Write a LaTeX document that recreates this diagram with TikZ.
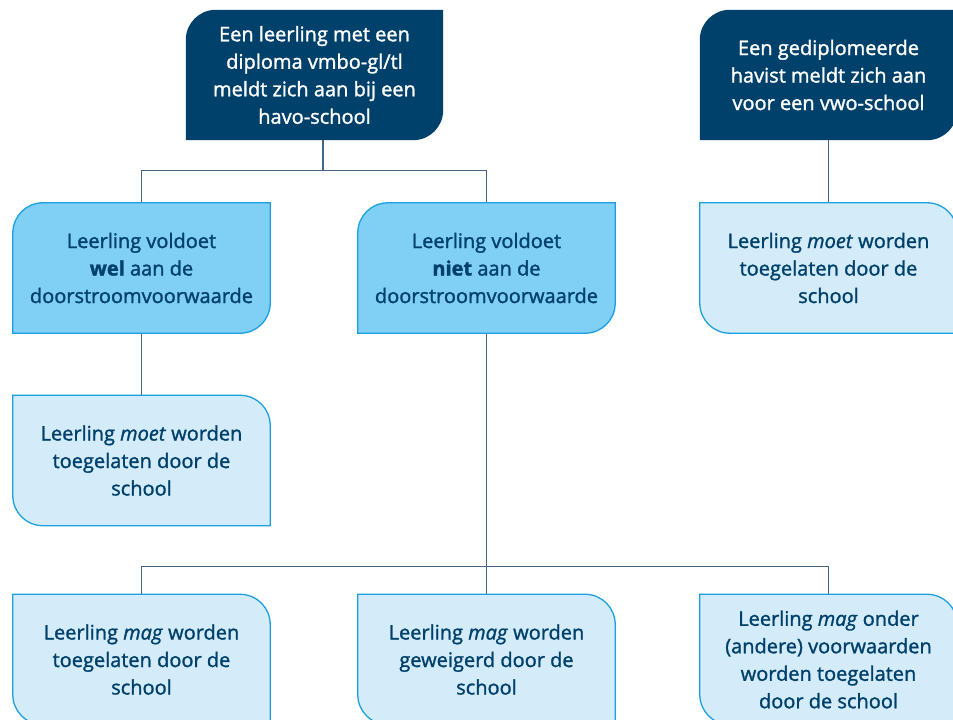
\documentclass[tikz,border=0pt]{standalone}
\usepackage{fontspec}
\setmainfont{Open Sans}[FakeBold=1.4]
\usetikzlibrary{calc,backgrounds}
\definecolor{navy}{HTML}{00416B}
\definecolor{midfill}{HTML}{80CFF4}
\definecolor{palefill}{HTML}{D4EBFA}
\definecolor{edge}{HTML}{1BA0E0}
\definecolor{conncol}{HTML}{45668A}
\newcommand\shapeTLBR[2]{%
  \path[#2] ($(#1.north west)+(0,-30)$) arc[start angle=180,end angle=90,radius=30]
    -- (#1.north east) -- ($(#1.south east)+(0,30)$) arc[start angle=0,end angle=-90,radius=30]
    -- (#1.south west) -- cycle;}
\newcommand\shapeTRBL[2]{%
  \path[#2] (#1.north west) -- ($(#1.north east)+(-30,0)$) arc[start angle=90,end angle=0,radius=30]
    -- (#1.south east) -- ($(#1.south west)+(30,0)$) arc[start angle=270,end angle=180,radius=30]
    -- cycle;}
\tikzset{
  box/.style={inner sep=0pt, minimum width=257pt, minimum height=130pt, align=center,
    font=\fontsize{20}{27.5}\selectfont},
  darkbox/.style={box, text=white},
  lightbox/.style={box, text=navy},
  darkshape/.style={fill=navy},
  midshape/.style={fill=midfill, draw=edge, line width=1.3pt},
  paleshape/.style={fill=palefill, draw=edge, line width=1.3pt},
  conn/.style={draw=conncol, line width=1.2pt}
}
\begin{document}
\begin{tikzpicture}[x=1pt,y=1pt]
\useasboundingbox (0,0) rectangle (953,-720);
\node[darkbox] (top1) at (314.5,-75) {Een leerling met een\\diploma vmbo-gl/tl\\meldt zich aan bij een\\havo-school};
\node[darkbox] (top2) at (828.5,-75) {Een gediplomeerde\\havist meldt zich aan\\voor een vwo-school};
\node[lightbox] (wel) at (141.5,-268) {Leerling voldoet\\\textbf{wel} aan de\\doorstroomvoorwaarde};
\node[lightbox] (niet) at (486.5,-268) {Leerling voldoet\\\textbf{niet} aan de\\doorstroomvoorwaarde};
\node[lightbox] (moetR) at (828.5,-268) {Leerling \textit{moet} worden\\toegelaten door de\\school};
\node[lightbox] (moetL) at (141.5,-460.5) {Leerling \textit{moet} worden\\toegelaten door de\\school};
\node[lightbox] (mag1) at (141.5,-659.5) {Leerling \textit{mag} worden\\toegelaten door de\\school};
\node[lightbox] (mag2) at (486.5,-659.5) {Leerling \textit{mag} worden\\geweigerd door de\\school};
\node[lightbox] (mag3) at (828.5,-659.5) {Leerling \textit{mag} onder\\(andere) voorwaarden\\worden toegelaten\\door de school};
\begin{scope}[on background layer]
\draw[conn] ([xshift=8.5pt]top1.south) -- ++(0,-30) coordinate (j1);
\draw[conn] (wel.north) |- (j1) -| (niet.north);
\draw[conn] (top2.south) -- (moetR.north);
\draw[conn] (wel.south) -- (moetL.north);
\draw[conn] (niet.south) -- (mag2.north);
\draw[conn] (mag1.north) -- ++(0,28) -| (mag3.north);
\shapeTLBR{top1}{darkshape}
\shapeTLBR{top2}{darkshape}
\shapeTLBR{wel}{midshape}
\shapeTLBR{niet}{midshape}
\shapeTRBL{moetR}{paleshape}
\shapeTRBL{moetL}{paleshape}
\shapeTRBL{mag1}{paleshape}
\shapeTRBL{mag2}{paleshape}
\shapeTRBL{mag3}{paleshape}
\end{scope}
\end{tikzpicture}
\end{document}
